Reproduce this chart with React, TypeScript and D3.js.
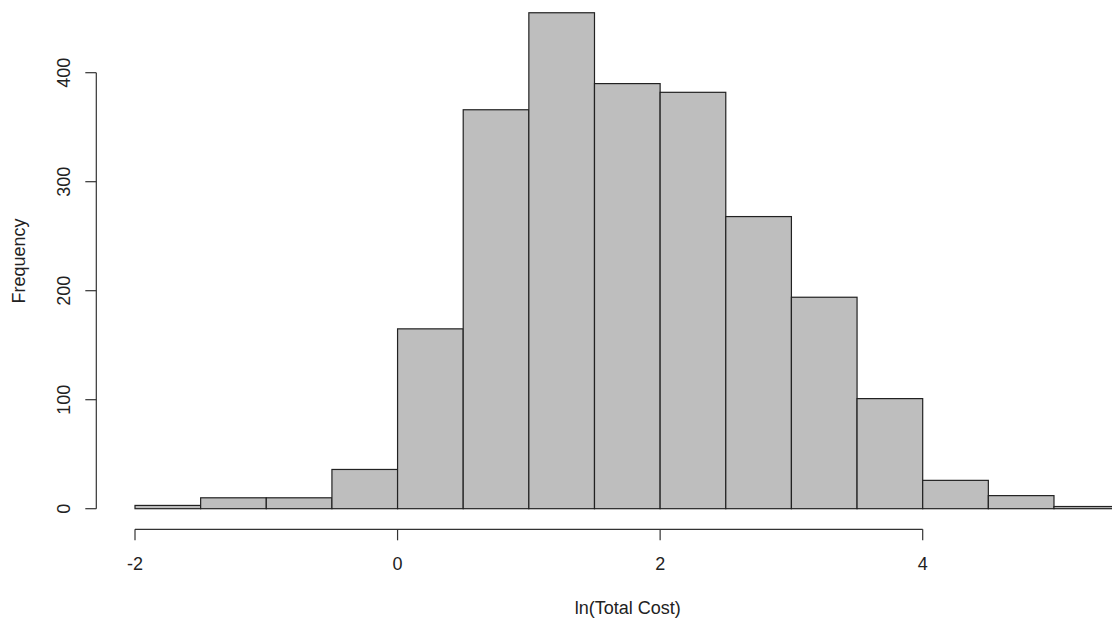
import { useRef, useEffect } from 'react';
import * as d3 from 'd3';

// histogram bins (left edges) and counts
const binStarts = [-2, -1.5, -1, -0.5, 0, 0.5, 1, 1.5, 2, 2.5, 3, 3.5, 4, 4.5, 5];
const binWidth = 0.5;
const counts = [3, 10, 10, 36, 165, 366, 455, 390, 382, 268, 194, 101, 26, 12, 2];
const xTicks = [-2, 0, 2, 4];
const yTicks = [0, 100, 200, 300, 400];

const W = 1112;
const H = 623;

export default function App() {
  const svgRef = useRef<SVGSVGElement | null>(null);

  useEffect(() => {
    const svg = d3.select(svgRef.current);
    svg.selectAll('*').remove();
    svg.attr('width', W).attr('height', H);

    const font = "'Liberation Sans', Arial, sans-serif";

    // x: -2 -> 135px, 4 -> 922.7px
    const x = d3.scaleLinear().domain([-2, 4]).range([135, 922.7]);
    // y: 0 -> 508.7px, 400 -> 72.7px
    const y = d3.scaleLinear().domain([0, 400]).range([508.7, 72.7]);

    // bars
    svg.append('g')
      .selectAll('rect')
      .data(binStarts)
      .join('rect')
      .attr('x', d => x(d))
      .attr('width', d => x(d + binWidth) - x(d))
      .attr('y', (d, i) => y(counts[i]))
      .attr('height', (d, i) => y(0) - y(counts[i]))
      .attr('fill', '#bebebe')
      .attr('stroke', '#222')
      .attr('stroke-width', 1.2);

    // x axis (R style, detached)
    const xAxisY = 529.3;
    const gx = svg.append('g').attr('stroke', '#333').attr('stroke-width', 1.2);
    gx.append('line')
      .attr('x1', x(xTicks[0])).attr('x2', x(xTicks[xTicks.length - 1]))
      .attr('y1', xAxisY).attr('y2', xAxisY);
    xTicks.forEach(t => {
      gx.append('line')
        .attr('x1', x(t)).attr('x2', x(t))
        .attr('y1', xAxisY).attr('y2', xAxisY + 11);
    });
    svg.append('g')
      .selectAll('text')
      .data(xTicks)
      .join('text')
      .attr('x', d => x(d))
      .attr('y', 569.5)
      .attr('text-anchor', 'middle')
      .style('font-family', font)
      .style('font-size', '18px')
      .attr('fill', '#222')
      .text(d => String(d));

    // y axis
    const yAxisX = 96.3;
    const gy = svg.append('g').attr('stroke', '#333').attr('stroke-width', 1.2);
    gy.append('line')
      .attr('x1', yAxisX).attr('x2', yAxisX)
      .attr('y1', y(yTicks[0])).attr('y2', y(yTicks[yTicks.length - 1]));
    yTicks.forEach(t => {
      gy.append('line')
        .attr('x1', yAxisX - 11).attr('x2', yAxisX)
        .attr('y1', y(t)).attr('y2', y(t));
    });
    svg.append('g')
      .selectAll('text')
      .data(yTicks)
      .join('text')
      .attr('transform', d => `translate(69.5,${y(d)}) rotate(-90)`)
      .attr('text-anchor', 'middle')
      .style('font-family', font)
      .style('font-size', '18px')
      .attr('fill', '#222')
      .text(d => String(d));

    // axis titles
    svg.append('text')
      .attr('x', 627.7)
      .attr('y', 613.5)
      .attr('text-anchor', 'middle')
      .style('font-family', font)
      .style('font-size', '18px')
      .attr('fill', '#222')
      .text('ln(Total Cost)');

    svg.append('text')
      .attr('transform', 'translate(24.5,261) rotate(-90)')
      .attr('text-anchor', 'middle')
      .style('font-family', font)
      .style('font-size', '18px')
      .attr('fill', '#222')
      .text('Frequency');
  }, []);

  return (
    <svg
      ref={svgRef}
      style={{ position: 'fixed', left: 0, top: 0, background: '#fff', display: 'block' }}
    />
  );
}
